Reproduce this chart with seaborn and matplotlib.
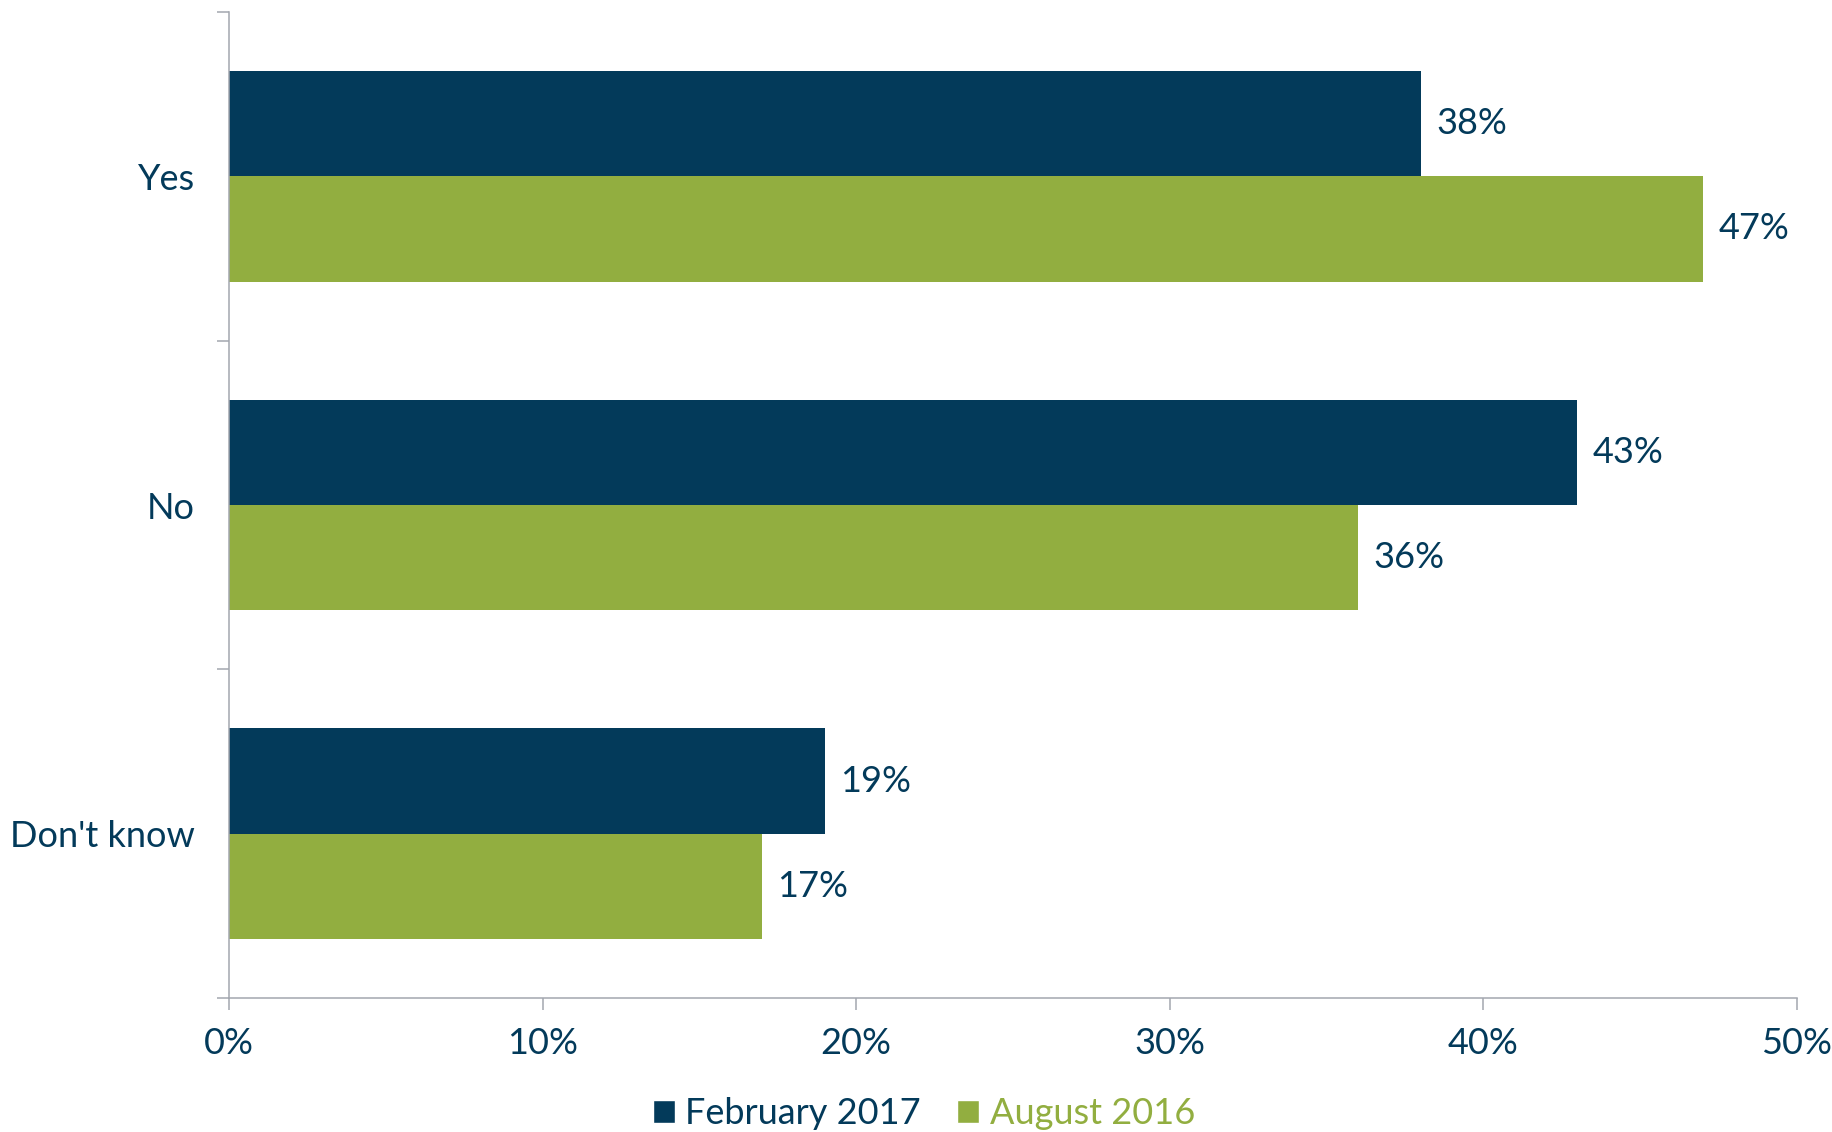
import matplotlib
matplotlib.use("Agg")
import matplotlib.pyplot as plt
import seaborn as sns
import pandas as pd
from matplotlib.ticker import FixedLocator, PercentFormatter
from matplotlib.patches import Patch

categories = ["Yes", "No", "Don't know"]
series = ["February 2017", "August 2016"]
feb_2017 = [38, 43, 19]
aug_2016 = [47, 36, 17]
x_ticks = [0, 10, 20, 30, 40, 50]

NAVY = "#033A5A"
GREEN = "#92AE40"
GRAY = "#A3A7AF"
FS = 26

sns.set_style("white")
plt.rcParams['font.family'] = ['Lato', 'DejaVu Sans']

df = pd.DataFrame({
    "category": categories * 2,
    "series": [series[0]] * 3 + [series[1]] * 3,
    "value": feb_2017 + aug_2016,
})

fig = plt.figure(figsize=(18.33, 11.32), dpi=100)
ax = fig.add_axes([229/1833, 1-998/1132, (1797-229)/1833, (998-12)/1132])

sns.barplot(data=df, y="category", x="value", hue="series", order=categories,
            hue_order=series, palette=[NAVY, GREEN], orient="h", width=0.64,
            saturation=1, ax=ax, legend=False, linewidth=0)

for container in ax.containers:
    ax.bar_label(container, labels=[f"{v:.0f}%" for v in container.datavalues],
                 padding=11, fontsize=FS, color=NAVY)

ax.set_xlim(0, 50)
ax.set_ylim(2.5, -0.5)
ax.set_xticks(x_ticks)
ax.xaxis.set_major_formatter(PercentFormatter(decimals=0))
ax.set_xlabel("")
ax.set_ylabel("")

ax.yaxis.set_major_locator(FixedLocator([-0.5, 0.5, 1.5, 2.5]))
ax.set_yticklabels([])
ax.yaxis.set_minor_locator(FixedLocator([0, 1, 2]))
ax.set_yticklabels(categories, minor=True)
ax.tick_params(axis="y", which="major", length=8.6, width=1.1, color=GRAY, direction="out", left=True)
ax.tick_params(axis="y", which="minor", length=0, pad=24.5, labelsize=FS, labelcolor=NAVY)
ax.tick_params(axis="x", which="major", length=8.6, width=1.1, color=GRAY, direction="out",
               bottom=True, pad=12, labelsize=FS, labelcolor=NAVY)

for s in ["top", "right"]:
    ax.spines[s].set_visible(False)
for s in ["left", "bottom"]:
    ax.spines[s].set_color(GRAY)
    ax.spines[s].set_linewidth(1.1)

handles = [Patch(facecolor=NAVY, label=series[0]), Patch(facecolor=GREEN, label=series[1])]
leg = fig.legend(handles=handles, loc="center", bbox_to_anchor=(924/1833, 1-1114/1132),
                 ncol=2, frameon=False, fontsize=FS, handlelength=0.6, handleheight=0.6,
                 handletextpad=0.3, columnspacing=1.0)
for t, c in zip(leg.get_texts(), [NAVY, GREEN]):
    t.set_color(c)

fig.savefig("out.png", dpi=100)
